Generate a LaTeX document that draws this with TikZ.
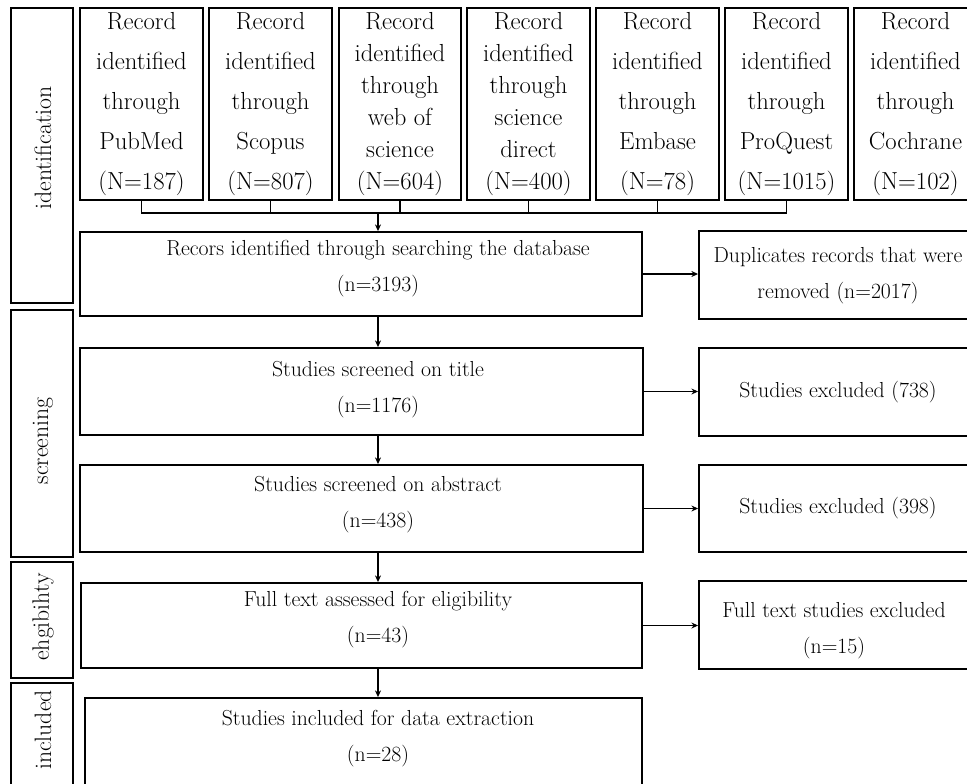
\documentclass[tikz,border=0pt]{standalone}
\usetikzlibrary{arrows.meta}
\begin{document}
\begin{tikzpicture}[x=0.75pt,y=-0.75pt,
  bx/.style={draw, line width=1.4pt, inner sep=0pt},
  sz/.style 2 args={minimum width=#1*0.75pt, minimum height=#2*0.75pt},
  topt/.style={align=center, font=\fontsize{18.5}{30}\selectfont},
  topc/.style={align=center, font=\fontsize{18.5}{24}\selectfont},
  txt/.style={align=center, font=\fontsize{16.3}{27}\selectfont},
  side/.style={rotate=90, font=\fontsize{17.8}{20}\selectfont},
  ln/.style={line width=0.8pt},
  arr/.style={ln, -{Stealth[length=5pt,width=4.5pt]}}]
\useasboundingbox (0,0) rectangle (967,783);
\clip (0,0) rectangle (967,783);
% side labels
\node[bx, sz={62}{295}] (s1) at (42,155.5) {};
\node[bx, sz={62}{247}] (s2) at (42,433.5) {};
\node[bx, sz={62}{116}] (s3) at (42,620) {};
\node[bx, sz={62}{127}] (s4) at (42,746.5) {};
\node[side] (s1t) at (43,148) {identification};
\node[side] (s2t) at (43,441) {screening};
\node[side] (s3t) at (43,617) {ehgibihty};
\node[side] (s4t) at (43,730) {included};
% top boxes
\node[bx, topt, sz={123}{192}] (pub) at (141.5,104) {Record\\identified\\through\\PubMed\\(N=187)};
\node[bx, topt, sz={123}{192}] (sco) at (270.5,104) {Record\\identified\\through\\Scopus\\(N=807)};
\node[bx, topc, sz={122}{192}] (wos) at (400,104) {Record\\identified\\through\\web of\\science\\(N=604)};
\node[bx, topc, sz={123}{192}] (sd) at (528.5,104) {Record\\identified\\through\\science\\direct\\(N=400)};
\node[bx, topt, sz={123}{192}] (emb) at (657.5,104) {Record\\identified\\through\\Embase\\(N=78)};
\node[bx, topt, sz={123}{192}] (pq) at (786.5,104) {Record\\identified\\through\\ProQuest\\(N=1015)};
\node[bx, topt, sz={123}{192}] (coc) at (915.5,104) {Record\\identified\\through\\Cochrane\\(N=102)};
% main boxes
\node[bx, sz={562}{84}] (b1) at (361,274) {};
\node[bx, sz={563}{87}] (b2) at (361.5,391.5) {};
\node[bx, sz={563}{87}] (b3) at (361.5,508.5) {};
\node[bx, sz={561}{85}] (b4) at (361.5,625.5) {};
\node[bx, sz={557}{112}] (b5) at (363.5,754) {};
\node[txt] (b1t) at (378,269) {Recors identified through searching the database\\(n=3193)};
\node[txt] (b2t) at (378,390) {Studies screened on title\\(n=1176)};
\node[txt] (b3t) at (378,505) {Studies screened on abstract\\(n=438)};
\node[txt] (b4t) at (378,620) {Full text assessed for eligibility\\(n=43)};
\node[txt] (b5t) at (378,739) {Studies included for data extraction\\(n=28)};
% right boxes
\node[bx, sz={280}{88}] (d1) at (839,275) {};
\node[bx, sz={280}{88}] (e1) at (839,392) {};
\node[bx, sz={280}{87}] (e2) at (839,508.5) {};
\node[bx, sz={280}{88}] (e3) at (839,625) {};
\node[txt] (d1t) at (838,275.5) {Duplicates records that were\\removed (n=2017)};
\node[txt] (e1t) at (838,392) {Studies excluded (738)};
\node[txt] (e2t) at (838,508) {Studies excluded (398)};
\node[txt] (e3t) at (834,631) {Full text studies excluded\\(n=15)};
% bracket
\coordinate (br) at (378,213);
\draw[ln] (pub.south) |- (pq.south |- br) -- (pq.south);
\draw[ln] (sco.south) -- (sco.south |- br);
\draw[ln] (wos.south) -- (wos.south |- br);
\draw[ln] (sd.south) -- (sd.south |- br);
\draw[ln] (emb.south) -- (emb.south |- br);
\draw[arr] (br) -- (br |- b1.north);
% vertical arrows
\draw[arr] (br |- b1.south) -- (br |- b2.north);
\draw[arr] (br |- b2.south) -- (br |- b3.north);
\draw[arr] (br |- b3.south) -- (br |- b4.north);
\draw[arr] (br |- b4.south) -- (br |- b5.north);
% horizontal arrows
\draw[arr] (b1.east) -- (b1.east -| d1.west);
\draw[arr] (b2.east) -- (b2.east -| e1.west);
\draw[arr] (b3.east) -- (b3.east -| e2.west);
\draw[arr] (b4.east) -- (b4.east -| e3.west);
\end{tikzpicture}
\end{document}
